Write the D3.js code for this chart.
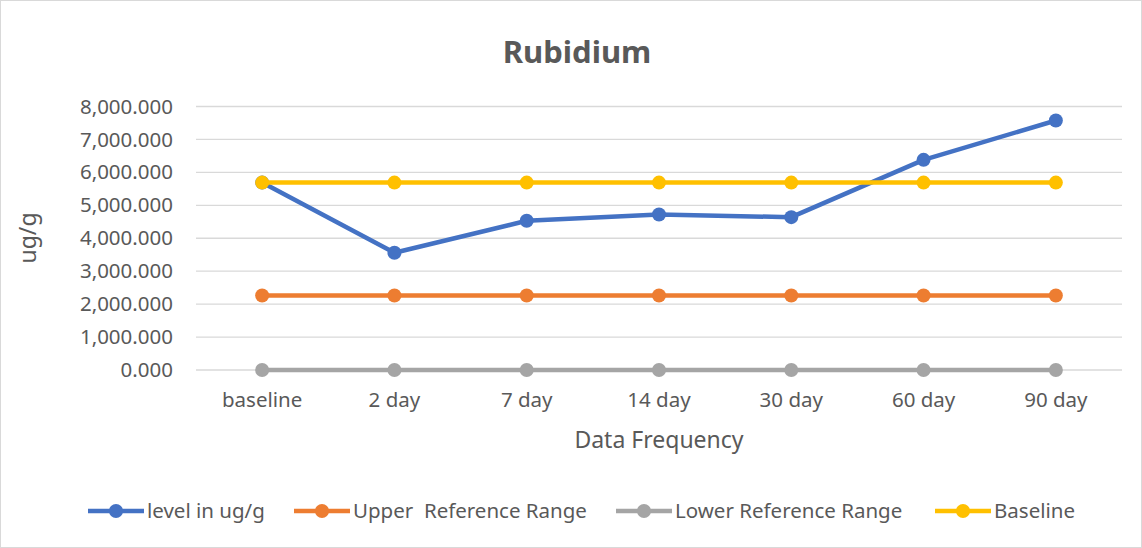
<!DOCTYPE html>
<html>
<head>
<meta charset="utf-8">
<script src="https://cdn.jsdelivr.net/npm/d3@7"></script>
<style>
  body { margin: 0; background: #fff; }
  text { font-family: "Noto Sans", "Open Sans", sans-serif; fill: #595959; }
</style>
</head>
<body>
<div id="main"></div>
<script>
// chart data
var categories = ["baseline", "2 day", "7 day", "14 day", "30 day", "60 day", "90 day"];
var levelValues = [5690, 3560, 4530, 4720, 4640, 6380, 7575];
var upperValues = [2260, 2260, 2260, 2260, 2260, 2260, 2260];
var lowerValues = [0, 0, 0, 0, 0, 0, 0];
var baselineValues = [5690, 5690, 5690, 5690, 5690, 5690, 5690];
var yTicks = [0, 1000, 2000, 3000, 4000, 5000, 6000, 7000, 8000];
var seriesNames = ["level in ug/g", "Upper  Reference Range", "Lower Reference Range", "Baseline"];
var seriesColors = ["#4472C4", "#ED7D31", "#A5A5A5", "#FFC000"];

var series = [levelValues, upperValues, lowerValues, baselineValues].map(function(vals, i) {
    return { name: seriesNames[i], color: seriesColors[i], values: vals };
});

var W = 1142, H = 548;
var margin = {top: 106.5, right: 20, bottom: 178, left: 196};
var width = 1122 - margin.left,
    height = 370 - margin.top;

var svg = d3.select("#main")
  .append("svg")
    .attr("width", W)
    .attr("height", H);

// outer chart border
svg.append("rect")
    .attr("x", 0.5).attr("y", 0.5)
    .attr("width", W - 1).attr("height", H - 1)
    .attr("fill", "#fff")
    .attr("stroke", "#d9d9d9");

var g = svg.append("g")
    .attr("transform", "translate(" + margin.left + "," + margin.top + ")");

var x = d3.scaleBand()
    .domain(categories)
    .range([0, width]);

var y = d3.scaleLinear()
    .domain([0, 8000])
    .range([height, 0]);

// gridlines
g.append("g")
  .selectAll("line")
  .data(yTicks)
  .enter().append("line")
    .attr("x1", 0).attr("x2", width)
    .attr("y1", function(d) { return y(d); })
    .attr("y2", function(d) { return y(d); })
    .attr("stroke", "#d9d9d9")
    .attr("stroke-width", 1.3);

// y axis labels
var yAxis = g.append("g")
    .call(d3.axisLeft(y).tickValues(yTicks).tickSize(0).tickPadding(23)
      .tickFormat(d3.format(",.3f")));
yAxis.select(".domain").remove();
yAxis.selectAll("text")
    .style("font-size", "20.5px")
    .attr("fill", "#595959");

// x axis labels
var xAxis = g.append("g")
    .attr("transform", "translate(0," + height + ")")
    .call(d3.axisBottom(x).tickSize(0).tickPadding(22));
xAxis.select(".domain").remove();
xAxis.selectAll("text")
    .style("font-size", "20.5px")
    .attr("fill", "#595959");

// lines and markers
var line = d3.line()
    .x(function(d, i) { return x(categories[i]) + x.bandwidth() / 2; })
    .y(function(d) { return y(d); });

series.forEach(function(s) {
    var sg = g.append("g");
    sg.append("path")
        .datum(s.values)
        .attr("d", line)
        .attr("fill", "none")
        .attr("stroke", s.color)
        .attr("stroke-width", 4.5)
        .attr("stroke-linejoin", "round");
    sg.selectAll("circle")
        .data(s.values)
        .enter().append("circle")
        .attr("cx", function(d, i) { return x(categories[i]) + x.bandwidth() / 2; })
        .attr("cy", function(d) { return y(d); })
        .attr("r", 7)
        .attr("fill", s.color);
});

// title
svg.append("text")
    .attr("x", 577).attr("y", 63)
    .attr("text-anchor", "middle")
    .style("font-size", "31px")
    .style("font-weight", "bold")
    .text("Rubidium");

// axis titles
svg.append("text")
    .attr("transform", "translate(36,238) rotate(-90)")
    .attr("text-anchor", "middle")
    .style("font-size", "23px")
    .text("ug/g");

svg.append("text")
    .attr("x", 659).attr("y", 448)
    .attr("text-anchor", "middle")
    .style("font-size", "23px")
    .text("Data Frequency");

// legend
var legendX = [88, 294, 616, 935];
var legend = svg.append("g");
series.forEach(function(s, i) {
    var lg = legend.append("g")
        .attr("transform", "translate(" + legendX[i] + ",511)");
    lg.append("line")
        .attr("x1", 0).attr("x2", 56)
        .attr("stroke", s.color)
        .attr("stroke-width", 4.5);
    lg.append("circle")
        .attr("cx", 28).attr("r", 7)
        .attr("fill", s.color);
    lg.append("text")
        .attr("x", 59).attr("y", 7)
        .style("font-size", "20.5px")
        .style("white-space", "pre")
        .text(s.name);
});
</script>
</body>
</html>
